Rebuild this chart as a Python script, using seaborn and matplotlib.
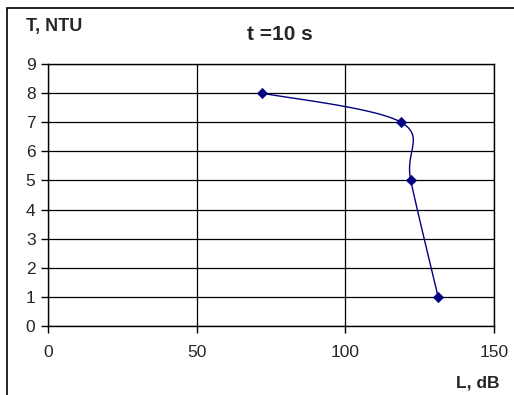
import matplotlib
matplotlib.use("Agg")
import matplotlib.pyplot as plt
import numpy as np
import pandas as pd
import seaborn as sns
from matplotlib.patches import Rectangle

# data
L_dB = [72, 118.7, 122, 131.2]
T_NTU = [8, 7, 5, 1]

sns.set_style("white")
plt.rcParams['font.family'] = ['Liberation Sans', 'DejaVu Sans']

# Excel-like smoothed line (Catmull-Rom -> Bezier, tension 1/6)
def smooth(xs, ys, n=40):
    p = np.column_stack([xs, ys]).astype(float)
    pts = np.vstack([p[0], p, p[-1]])
    out = []
    for i in range(1, len(pts) - 2):
        p0, p1, p2, p3 = pts[i - 1], pts[i], pts[i + 1], pts[i + 2]
        c1 = p1 + (p2 - p0) / 6
        c2 = p2 - (p3 - p1) / 6
        t = np.linspace(0, 1, n)[:, None]
        seg = ((1 - t) ** 3) * p1 + 3 * ((1 - t) ** 2) * t * c1 + 3 * (1 - t) * t ** 2 * c2 + t ** 3 * p2
        out.append(seg)
    s = np.vstack(out)
    return s[:, 0], s[:, 1]

sx, sy = smooth(L_dB, T_NTU)
curve = pd.DataFrame({"L": sx, "T": sy})
pts = pd.DataFrame({"L": L_dB, "T": T_NTU})

fig = plt.figure(figsize=(5.14, 3.95), dpi=100)
ax = fig.add_axes([48 / 514, 69 / 395, 446 / 514, 262 / 395])

sns.lineplot(data=curve, x="L", y="T", sort=False, color="#000080", lw=1.0, ax=ax)
sns.scatterplot(data=pts, x="L", y="T", marker="D", s=28, color="#000080",
                edgecolor="#000080", ax=ax, zorder=5)

ax.set_xlim(0, 150)
ax.set_ylim(0, 9)
ax.set_xticks([0, 50, 100, 150])
ax.set_yticks(range(10))
ax.grid(True, color="black", lw=0.9)
for s in ax.spines.values():
    s.set_color("black")
    s.set_linewidth(1.0)
ax.tick_params(axis="both", direction="out", length=5, width=1, color="black",
               labelsize=12.5, bottom=True, left=True)
ax.tick_params(axis="x", pad=9)
ax.tick_params(axis="y", pad=4)
ax.set_xlabel("")
ax.set_ylabel("")

fig.text(26 / 514, 1 - 27 / 395, "T, NTU", fontsize=13, fontweight="bold", va="center", ha="left")
fig.text(280 / 514, 1 - 35 / 395, "t =10 s", fontsize=15, fontweight="bold", va="center", ha="center")
fig.text(500 / 514, 1 - 383 / 395, "L, dB", fontsize=12.5, fontweight="bold", va="center", ha="right")

fig.patches.append(Rectangle((7 / 514, -0.1), 1.2, 1 - 8 / 395 + 0.1, transform=fig.transFigure,
                             fill=False, edgecolor="black", lw=1.2))

fig.savefig("out.png", dpi=100)
